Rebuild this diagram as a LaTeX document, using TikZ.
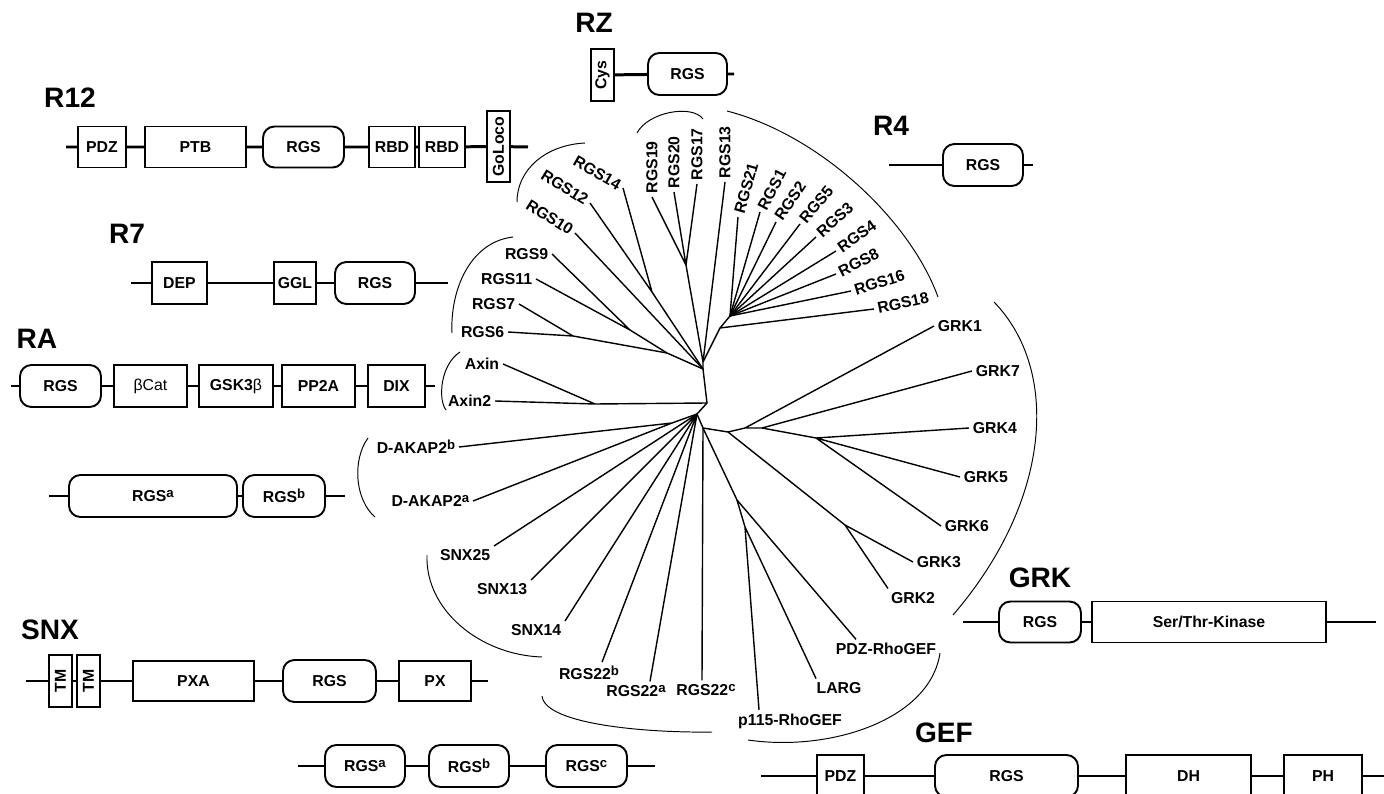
\documentclass[tikz,border=0pt]{standalone}
\usepackage{fontspec}
\setmainfont{Liberation Sans}
\newcommand\supx[1]{\raisebox{0.5ex}{\fontsize{7.5}{8}\selectfont #1}}
\tikzset{
  dom/.style={draw, line width=1.1pt, fill=white, inner sep=0pt, minimum height=0.84cm,
    font=\bfseries\fontsize{9}{10}\selectfont},
  rgsdom/.style={dom, rounded corners=6.5pt},
  vdom/.style={dom, rotate=90, minimum height=0.46cm},
  fam/.style={font=\bfseries\fontsize{16}{18}\selectfont},
  chain/.style={line width=1.7pt},
  leaf/.style={inner sep=2pt, font=\bfseries\fontsize{9}{10}\selectfont},
  branch/.style={line width=0.8pt},
  clade/.style={line width=0.55pt},
}
\begin{document}
\begin{tikzpicture}[x=0.02cm, y=-0.02cm]
  \useasboundingbox (0,0) rectangle (1384,794);
  \fill[white] (0,0) rectangle (1384,794);

  % family names
  \node[fam] (tR12) at (70,98) {R12};
  \node[fam] (tRZ) at (594,23) {RZ};
  \node[fam] (tR4) at (891,126) {R4};
  \node[fam] (tR7) at (127,234) {R7};
  \node[fam] (tRA) at (37,339) {RA};
  \node[fam] (tSNX) at (50,630) {SNX};
  \node[fam] (tGRK) at (1040,578) {GRK};
  \node[fam] (tGEF) at (944,733) {GEF};

  % R12 domains
  \coordinate (r12a) at (66,147);
  \coordinate (r12b) at (528,147);
  \node[dom, minimum width=0.96cm, minimum height=0.82cm] (r12pdz) at (102,147) {PDZ};
  \node[dom, minimum width=2.02cm, minimum height=0.82cm] (r12ptb) at (195.5,147) {PTB};
  \node[rgsdom, minimum width=1.62cm, minimum height=0.82cm] (r12rgs) at (303.5,147) {RGS};
  \node[dom, minimum width=0.92cm, minimum height=0.82cm] (r12rbd1) at (392,147) {RBD};
  \node[dom, minimum width=0.92cm, minimum height=0.82cm] (r12rbd2) at (442,147) {RBD};
  \node[vdom, minimum width=1.42cm] (r12go) at (498.5,146.5) {GoLoco};
  \draw[chain] (r12a) -- (r12pdz) -- (r12ptb) -- (r12rgs) -- (r12rbd1) -- (r12rbd2) -- (r12go) -- (r12b);

  % RZ domains
  \coordinate (rzb) at (734,74);
  \node[vdom, minimum width=1.04cm] (rzcys) at (602.5,75) {Cys};
  \node[rgsdom, minimum width=1.58cm] (rzrgs) at (687.5,74) {RGS};
  \draw[chain] (rzcys) -- (rzrgs) -- (rzb);

  % R4 domains
  \coordinate (r4a) at (889,165);
  \coordinate (r4b) at (1033,165);
  \node[rgsdom, minimum width=1.6cm] (r4rgs) at (983,165) {RGS};
  \draw[chain] (r4a) -- (r4rgs) -- (r4b);

  % R7 domains
  \coordinate (r7a) at (131,283);
  \coordinate (r7b) at (448,283);
  \node[dom, minimum width=1.1cm] (r7dep) at (179.5,283) {DEP};
  \node[dom, minimum width=0.84cm] (r7ggl) at (295,283) {GGL};
  \node[rgsdom, minimum width=1.6cm] (r7rgs) at (375,283) {RGS};
  \draw[chain] (r7a) -- (r7dep) -- (r7ggl) -- (r7rgs) -- (r7b);

  % RA domains
  \coordinate (raa) at (11,386);
  \coordinate (rab) at (435,386);
  \node[rgsdom, minimum width=1.62cm] (rargs) at (60.5,386) {RGS};
  \node[dom, minimum width=1.46cm] (racat) at (150.5,386) {\mdseries βCat};
  \node[dom, minimum width=1.48cm] (ragsk) at (236,386) {GSK3{\mdseries β}};
  \node[dom, minimum width=1.46cm] (rapp) at (318.5,386) {PP2A};
  \node[dom, minimum width=1.14cm] (radix) at (396.5,386) {DIX};
  \draw[chain] (raa) -- (rargs) -- (racat) -- (ragsk) -- (rapp) -- (radix) -- (rab);

  % D-AKAP2 domains
  \coordinate (aka) at (49,496);
  \coordinate (akb) at (345,496);
  \node[rgsdom, minimum width=3.36cm] (akrgsa) at (153,496) {RGS\supx{a}};
  \node[rgsdom, minimum width=1.64cm] (akrgsb) at (284,496) {RGS\supx{b}};
  \draw[chain] (aka) -- (akrgsa) -- (akrgsb) -- (akb);

  % SNX domains
  \coordinate (snxa) at (26,681);
  \coordinate (snxb) at (488,681);
  \node[vdom, minimum width=1.04cm] (snxtm1) at (60.5,681) {TM};
  \node[vdom, minimum width=1.04cm] (snxtm2) at (88.5,681) {TM};
  \node[dom, minimum width=2.42cm, minimum height=0.8cm] (snxpxa) at (193.5,681) {PXA};
  \node[rgsdom, minimum width=1.86cm] (snxrgs) at (329.5,681) {RGS};
  \node[dom, minimum width=1.44cm, minimum height=0.8cm] (snxpx) at (435,681) {PX};
  \draw[chain] (snxa) -- (snxtm1) -- (snxtm2) -- (snxpxa) -- (snxrgs) -- (snxpx) -- (snxb);

  % RGS22 domains
  \coordinate (r22a) at (298,766);
  \coordinate (r22b) at (655,766);
  \node[rgsdom, minimum width=1.6cm] (r22rgsa) at (365,766) {RGS\supx{a}};
  \node[rgsdom, minimum width=1.6cm] (r22rgsb) at (469,766) {RGS\supx{b}};
  \node[rgsdom, minimum width=1.62cm] (r22rgsc) at (586.5,766) {RGS\supx{c}};
  \draw[chain] (r22a) -- (r22rgsa) -- (r22rgsb) -- (r22rgsc) -- (r22b);

  % GRK domains
  \coordinate (grka) at (963,622);
  \coordinate (grkb) at (1376,622);
  \node[rgsdom, minimum width=1.64cm, minimum height=0.82cm] (grkrgs) at (1040,622) {RGS};
  \node[dom, minimum width=4.68cm, minimum height=0.82cm] (grkkin) at (1209,622) {Ser/Thr-Kinase};
  \draw[chain] (grka) -- (grkrgs) -- (grkkin) -- (grkb);

  % GEF domains
  \coordinate (gefa) at (761,776);
  \coordinate (gefb) at (1395,776);
  \node[dom, minimum width=0.94cm] (gefpdz) at (840.5,776) {PDZ};
  \node[rgsdom, minimum width=2.86cm] (gefrgs) at (1006.5,776) {RGS};
  \node[dom, minimum width=2.5cm] (gefdh) at (1188.5,776) {DH};
  \node[dom, minimum width=1.56cm] (gefph) at (1323,776) {PH};
  \draw[chain] (gefa) -- (gefpdz) -- (gefrgs) -- (gefdh) -- (gefph) -- (gefb);

  % tree: inner points
  \coordinate (T0) at (703,362);
  \coordinate (T0b) at (703,369);
  \coordinate (T2) at (707,403);
  \coordinate (T3) at (697,414);
  \coordinate (T4) at (703,428);
  \coordinate (C1) at (686,265);
  \coordinate (R0) at (720,328);
  \coordinate (R1) at (730,316);
  \coordinate (L1) at (652,292);
  \coordinate (J1) at (573,336);
  \coordinate (J2) at (667,353);
  \coordinate (J3) at (630,330);
  \coordinate (A1) at (595,404);
  \coordinate (D1) at (672,423);
  \coordinate (E0) at (737,500);
  \coordinate (E1) at (745,527);
  \coordinate (G0) at (728,432);
  \coordinate (G1) at (745,428);
  \coordinate (G2) at (762,428);
  \coordinate (G4) at (816,438);
  \coordinate (G3) at (845,525);

  % tree: leaves
  \node[leaf, rotate=-30, anchor=east] (rgs14) at (623,188) {RGS14};
  \node[leaf, rotate=-32, anchor=east] (rgs12) at (590,203) {RGS12};
  \node[leaf, rotate=-32, anchor=east] (rgs10) at (575,233) {RGS10};
  \node[leaf, rotate=90, anchor=west] (rgs19) at (652,197) {RGS19};
  \node[leaf, rotate=90, anchor=west] (rgs20) at (674,192) {RGS20};
  \node[leaf, rotate=90, anchor=west] (rgs17) at (697,184) {RGS17};
  \node[leaf, rotate=90, anchor=west] (rgs13) at (725,182) {RGS13};
  \node[leaf, rotate=74, anchor=west] (rgs21) at (738,217) {RGS21};
  \node[leaf, rotate=62, anchor=west] (rgs1) at (760,212) {RGS1};
  \node[leaf, rotate=56, anchor=west] (rgs2) at (776,222) {RGS2};
  \node[leaf, rotate=50, anchor=west] (rgs5) at (800,224) {RGS5};
  \node[leaf, rotate=42, anchor=west] (rgs3) at (816,237) {RGS3};
  \node[leaf, rotate=35, anchor=west] (rgs4) at (836,251) {RGS4};
  \node[leaf, rotate=27, anchor=west] (rgs8) at (836,274) {RGS8};
  \node[leaf, rotate=17, anchor=west] (rgs16) at (851,291) {RGS16};
  \node[leaf, rotate=12, anchor=west] (rgs18) at (874,309) {RGS18};
  \node[leaf, anchor=east] (rgs9) at (552,254) {RGS9};
  \node[leaf, anchor=east] (rgs11) at (536,279) {RGS11};
  \node[leaf, anchor=east] (rgs7) at (519,304) {RGS7};
  \node[leaf, anchor=east] (rgs6) at (508,332) {RGS6};
  \node[leaf, anchor=east] (axin) at (503,364) {Axin};
  \node[leaf, anchor=east] (axin2) at (495,401) {Axin2};
  \node[leaf, anchor=east] (dakapb) at (459,447) {D-AKAP2\supx{b}};
  \node[leaf, anchor=east] (dakapa) at (473,501) {D-AKAP2\supx{a}};
  \node[leaf, anchor=north east] (snx25) at (494,546) {SNX25};
  \node[leaf, anchor=north east] (snx13) at (531,580) {SNX13};
  \node[leaf, anchor=north east] (snx14) at (565,621) {SNX14};
  \node[leaf] (rgs22b) at (589,673) {RGS22\supx{b}};
  \node[leaf] (rgs22a) at (636,691) {RGS22\supx{a}};
  \node[leaf] (rgs22c) at (706,690) {RGS22\supx{c}};
  \node[leaf] (p115) at (790,721) {p115-RhoGEF};
  \node[leaf] (larg) at (839,688) {LARG};
  \node[leaf] (pdzrho) at (886,649) {PDZ-RhoGEF};
  \node[leaf] (grk2) at (913,598) {GRK2};
  \node[leaf, anchor=west] (grk3) at (913,562) {GRK3};
  \node[leaf, anchor=west] (grk6) at (941,526) {GRK6};
  \node[leaf, anchor=west] (grk5) at (960,477) {GRK5};
  \node[leaf, anchor=west] (grk4) at (969,428) {GRK4};
  \node[leaf, anchor=west] (grk7) at (972,371) {GRK7};
  \node[leaf, anchor=west] (grk1) at (934,326) {GRK1};

  % tree: branches
  \draw[branch] (T0) -- (T0b) -- (T2) -- (T3) -- (T4);
  \draw[branch] (C1) -- (T0) (C1) -- (rgs19.west) (C1) -- (rgs20.west) (C1) -- (rgs17.west);
  \draw[branch] (T0) -- (rgs13.west);
  \draw[branch] (T0) -- (R0) -- (R1) (R0) -- (rgs18.west);
  \foreach \g in {rgs21, rgs1, rgs2, rgs5, rgs3, rgs4, rgs8, rgs16}
    \draw[branch] (R1) -- (\g.west);
  \draw[branch] (T0b) -- (L1) -- (rgs14.east) (L1) -- (rgs12.east);
  \draw[branch] (T0b) -- (rgs10.east);
  \draw[branch] (T0b) -- (J2) -- (J3) -- (rgs9.east) (J3) -- (rgs11.east);
  \draw[branch] (J2) -- (J1) -- (rgs7.east) (J1) -- (rgs6.east);
  \draw[branch] (T2) -- (A1) -- (axin.east) (A1) -- (axin2.east);
  \draw[branch] (T3) -- (D1) -- (dakapb.east) (D1) -- (dakapa.east);
  \draw[branch] (T3) -- (snx25.north east) (T3) -- (snx13.north east) (T3) -- (snx14.north east);
  \draw[branch] (T3) -- ([xshift=0.26cm]rgs22b.north) (T3) -- ([xshift=0.28cm]rgs22a.north);
  \draw[branch] (T4) -- ([xshift=-0.08cm]rgs22c.north);
  \draw[branch] (T4) -- (E0) -- (E1) -- ([xshift=-0.62cm]p115.north) (E1) -- ([xshift=-0.46cm]larg.north);
  \draw[branch] (E0) -- ([xshift=-0.6cm]pdzrho.north);
  \draw[branch] (T4) -- (G0) -- (G1) -- (grk1.west) (G1) -- (G2) -- (grk7.west) (G2) -- (G4);
  \draw[branch] (G4) -- (grk4.west) (G4) -- (grk5.west) (G4) -- (grk6.west);
  \draw[branch] (G0) -- (G3) -- (grk3.west) (G3) -- ([xshift=-0.5cm]grk2.north);

  % clade arcs
  \draw[clade] (517,202) .. controls (517,170) and (545,145) .. (585,143);
  \draw[clade] (637,133) .. controls (648,112) and (692,104) .. (703,119);
  \draw[clade] (727,111) .. controls (820,135) and (910,220) .. (938,297);
  \draw[clade] (513,237) .. controls (470,242) and (450,290) .. (452,333);
  \draw[clade] (460,352) .. controls (440,365) and (438,400) .. (446,410);
  \draw[clade] (368,438) .. controls (352,460) and (355,500) .. (375,517);
  \draw[clade] (427,555) .. controls (425,610) and (480,655) .. (542,657);
  \draw[clade] (542,696) .. controls (545,725) and (650,733) .. (712,732);
  \draw[clade] (940,653) .. controls (930,720) and (830,752) .. (748,740);
  \draw[clade] (994,302) .. controls (1060,370) and (1052,500) .. (953,615);
\end{tikzpicture}
\end{document}
